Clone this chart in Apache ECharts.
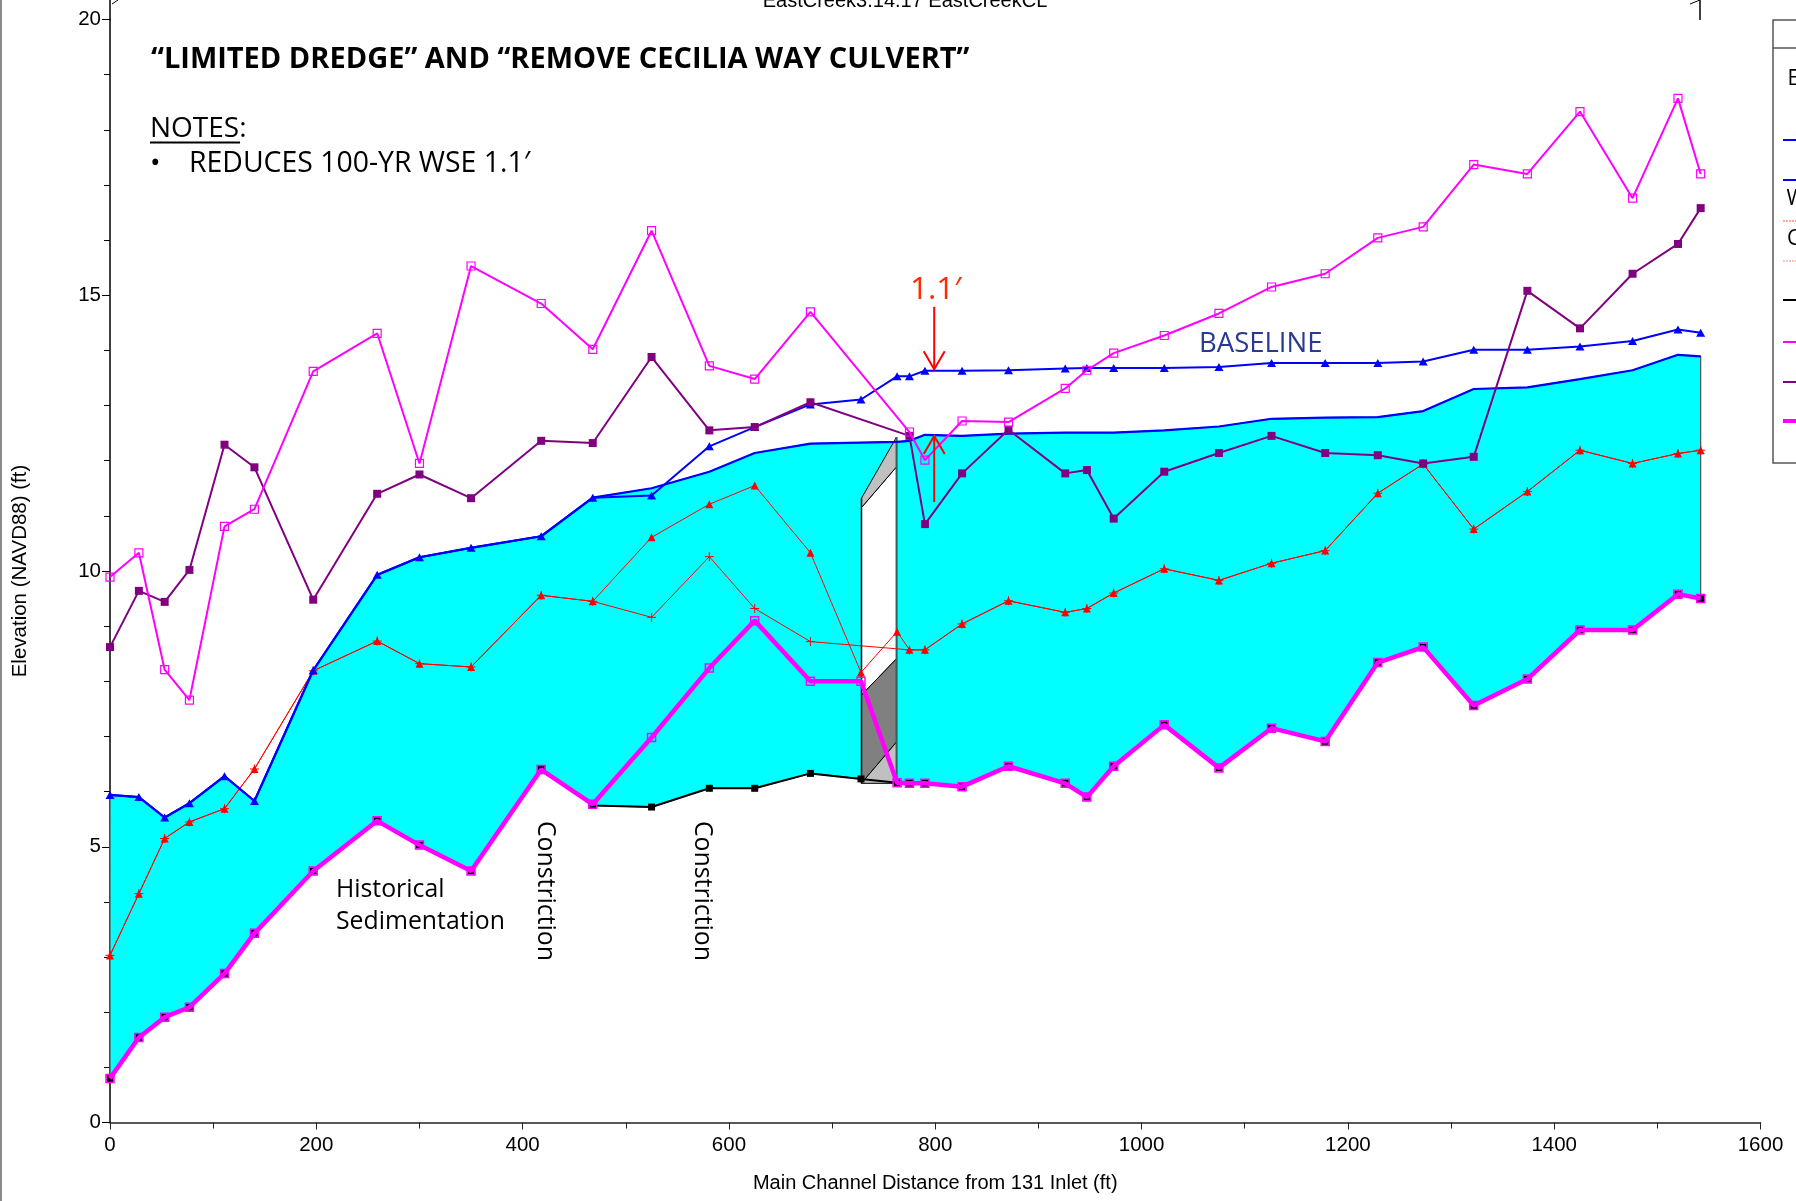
<!DOCTYPE html>
<html><head><meta charset="utf-8">
<script src="https://cdn.jsdelivr.net/npm/echarts/dist/echarts.min.js"></script>
<style>html,body{margin:0;padding:0;background:#fff}#c{width:1796px;height:1201px}</style>
</head><body><div id="c"></div>
<script>
// River stations (ft from 131 Inlet)
const stations = [0,28,53,77,111,140,197,259,300,350,418,468,525,581,625,679,728,763,775,790,826,871,926,947,973,1022,1075,1126,1178,1229,1273,1322,1374,1425,1476,1520,1542];
// Baseline water surface (blue, triangles)
const wsBaseline = [5.94,5.90,5.53,5.79,6.28,5.83,8.20,9.93,10.25,10.42,10.63,11.33,11.37,12.26,12.61,13.02,13.11,13.53,13.53,13.63,13.63,13.64,13.67,13.68,13.68,13.68,13.70,13.77,13.77,13.77,13.80,14.01,14.01,14.07,14.17,14.38,14.32];
// Proposed water surface (blue, top of cyan)
const wsProposed = [5.94,5.90,5.53,5.79,6.28,5.83,8.20,9.93,10.25,10.42,10.63,11.33,11.50,11.80,12.14,12.31,null,12.34,12.36,12.47,12.45,12.49,12.51,12.51,12.51,12.55,12.62,12.76,12.78,12.79,12.90,13.30,13.33,13.48,13.64,13.92,13.89];
// Critical WS, baseline (red triangles)
const critBaseline = [3.03,4.15,5.15,5.45,5.69,6.41,8.19,8.73,8.32,8.26,9.56,9.45,10.61,11.21,11.55,10.33,8.16,8.90,8.57,8.57,9.04,9.46,9.25,9.32,9.60,10.04,9.83,10.14,10.37,11.41,11.94,10.76,11.44,12.19,11.95,12.13,12.19];
// Critical WS, proposed (red +)
const critProposed = [3.03,4.15,5.15,5.45,5.69,6.41,8.19,8.73,8.32,8.26,9.56,9.45,9.16,10.26,9.32,8.72,null,null,8.57,8.57,9.04,9.46,9.25,9.32,9.60,10.04,9.83,10.14,10.37,11.41,11.94,10.76,11.44,12.19,11.95,12.13,12.19];
// Right bank (purple filled squares)
const rightBank = [8.62,9.64,9.44,10.02,12.29,11.88,9.48,11.40,11.75,11.32,12.36,12.32,13.88,12.55,12.61,13.06,null,null,12.45,10.85,11.77,12.56,11.77,11.83,10.95,11.80,12.14,12.45,12.14,12.10,11.95,12.07,15.08,14.40,15.39,15.93,16.58];
// Left bank (magenta open squares)
const leftBank = [9.89,10.33,8.21,7.66,10.81,11.12,13.62,14.31,11.95,15.53,14.85,14.02,16.17,13.72,13.48,14.70,null,null,12.52,12.01,12.72,12.70,13.31,13.64,13.95,14.27,14.67,15.15,15.39,16.04,16.24,17.37,17.20,18.33,16.76,18.57,17.20];
// Ground, dredged (black)
const groundDredged = [0.80,1.54,1.91,2.09,2.70,3.43,4.56,5.47,5.03,4.56,6.40,5.75,5.72,6.06,6.06,6.33,6.23,6.16,6.15,6.15,6.09,6.46,6.15,5.90,6.46,7.21,6.43,7.15,6.91,8.34,8.62,7.56,8.04,8.93,8.93,9.58,9.50];
// Ground, historical sedimentation (thick magenta)
const groundExisting = [0.80,1.54,1.91,2.09,2.70,3.43,4.56,5.47,5.03,4.56,6.40,5.77,6.98,8.24,9.10,8.00,8.00,6.16,6.15,6.15,6.09,6.46,6.15,5.90,6.46,7.21,6.43,7.15,6.91,8.34,8.62,7.56,8.04,8.93,8.93,9.58,9.50];
// Cecilia Way culvert outline
const culvertStations = [728.5, 762.5];
const culvertDeckTop = [11.32, 12.43];
const culvertDeckBottom = [11.15, 11.89];
const culvertFillTop = [7.75, 8.41];
const culvertFillBottom = [6.15, 6.90];
const culvertInvert = [6.15, 6.15];
// 1.1' annotation arrows
const arrowStation = 799;
const arrowDown = [14.79, 13.66];
const arrowUp = [11.25, 12.45];
// axis ticks
const xTickInterval = 200, xMax = 1600;
const yTickInterval = 5, yMax = 20;

function pairs(ys){ const out=[]; stations.forEach((x,i)=>{ if(ys[i]!=null) out.push([x,ys[i]]); }); return out; }

const chart = echarts.init(document.getElementById('c'), null, {renderer:'canvas'});
const TXT = '"Open Sans", "Noto Sans", sans-serif';
const AX = '"Liberation Sans", Arial, sans-serif';
const hollow = 'rgba(0,0,0,0)';

const option = {
  animation:false,
  backgroundColor:'#fff',
  grid:{left:110, right:35.5, top:19.5, bottom:78.5},
  xAxis:{type:'value', min:0, max:xMax, interval:xTickInterval,
    name:'Main Channel Distance from 131 Inlet (ft)', nameLocation:'middle', nameGap:51,
    nameTextStyle:{fontFamily:AX, fontSize:20, color:'#000'},
    axisLine:{show:true, onZero:false, lineStyle:{color:'#222', width:1.5}},
    axisTick:{show:true, length:7, lineStyle:{color:'#222', width:1}},
    minorTick:{show:true, splitNumber:2, length:6, lineStyle:{color:'#222', width:1}},
    axisLabel:{fontFamily:AX, fontSize:20.5, color:'#000', margin:12, showMinLabel:true, showMaxLabel:true, formatter:v=>String(v)},
    splitLine:{show:false}, minorSplitLine:{show:false}},
  yAxis:{type:'value', min:0, max:yMax, interval:yTickInterval,
    name:'Elevation (NAVD88) (ft)', nameLocation:'middle', nameGap:79,
    nameTextStyle:{fontFamily:AX, fontSize:20.5, color:'#000'},
    axisLine:{show:true, onZero:false, lineStyle:{color:'#000', width:1.5}},
    axisTick:{show:true, length:8, lineStyle:{color:'#000', width:1}},
    minorTick:{show:true, splitNumber:5, length:6, lineStyle:{color:'#000', width:1}},
    axisLabel:{fontFamily:AX, fontSize:20.5, color:'#000', margin:9, showMinLabel:true, showMaxLabel:true, formatter:v=>String(v)},
    splitLine:{show:false}, minorSplitLine:{show:false}},
  series:[
    {type:'custom', name:'Flow area', coordinateSystem:'cartesian2d', data:[[0,0]], z:1, silent:true,
      renderItem:(p,api)=>{
        const pts=[];
        stations.forEach((x,i)=>{ if(wsProposed[i]!=null) pts.push(api.coord([x, wsProposed[i]])); });
        for(let i=stations.length-1;i>=0;i--){ if(groundDredged[i]!=null) pts.push(api.coord([stations[i], groundDredged[i]])); }
        return {type:'polygon', shape:{points:pts}, style:{fill:'#00ffff', stroke:'#505050', lineWidth:1.2}};
      }},
    {type:'custom', name:'Culvert', coordinateSystem:'cartesian2d', data:[[culvertStations[0], culvertInvert[0]]], z:2, silent:true,
      renderItem:(p,api)=>{
        const c=(i,y)=>api.coord([culvertStations[i], y]);
        return {type:'group', children:[
          {type:'polygon', shape:{points:[c(0,culvertDeckBottom[0]),c(1,culvertDeckBottom[1]),c(1,culvertFillTop[1]),c(0,culvertFillTop[0])]}, style:{fill:'#ffffff', stroke:'#000', lineWidth:1}},
          {type:'polygon', shape:{points:[c(0,culvertDeckTop[0]),c(1,culvertDeckTop[1]),c(1,culvertDeckBottom[1]),c(0,culvertDeckBottom[0])]}, style:{fill:'#c0c0c0', stroke:'#000', lineWidth:1}},
          {type:'polygon', shape:{points:[c(0,culvertFillTop[0]),c(1,culvertFillTop[1]),c(1,culvertFillBottom[1]),c(0,culvertFillBottom[0])]}, style:{fill:'#808080', stroke:'#000', lineWidth:1}},
          {type:'polygon', shape:{points:[c(0,culvertFillBottom[0]),c(1,culvertFillBottom[1]),c(1,culvertInvert[1])]}, style:{fill:'#c0c0c0', stroke:'#000', lineWidth:1}},
          {type:'line', shape:{x1:c(0,culvertDeckTop[0])[0], y1:c(0,culvertDeckTop[0])[1], x2:c(0,culvertInvert[0])[0], y2:c(0,culvertInvert[0])[1]}, style:{stroke:'#000', lineWidth:1.5}},
          {type:'line', shape:{x1:c(1,culvertDeckTop[1])[0], y1:c(1,culvertDeckTop[1])[1], x2:c(1,culvertInvert[1])[0], y2:c(1,culvertInvert[1])[1]}, style:{stroke:'#2f5f5f', lineWidth:2}}
        ]};
      }},
    {type:'line', name:'Ground (dredged)', data:pairs(groundDredged), z:3, symbol:'rect', symbolSize:7,
      lineStyle:{color:'#000', width:2}, itemStyle:{color:'#000'}},
    {type:'line', name:'Ground (existing)', data:pairs(groundExisting), z:4, symbol:'rect', symbolSize:8,
      lineStyle:{color:'#ff00ff', width:4.5}, itemStyle:{color:hollow, borderColor:'#ff00ff', borderWidth:1.5}},
    {type:'line', name:'Crit baseline', data:pairs(critBaseline), z:5, symbol:'triangle', symbolSize:[8,8],
      lineStyle:{color:'#ff0000', width:1}, itemStyle:{color:'#ff0000'}},
    {type:'line', name:'Crit proposed', data:pairs(critProposed), z:5, symbol:'path://M0,5L10,5M5,0L5,10', symbolSize:9,
      lineStyle:{color:'#ff0000', width:1}, itemStyle:{color:'#ff0000', borderColor:'#ff0000', borderWidth:1}},
    {type:'line', name:'WS proposed', data:pairs(wsProposed), z:6, symbol:'none',
      lineStyle:{color:'#0000ff', width:2.2}},
    {type:'line', name:'WS baseline', data:pairs(wsBaseline), z:7, symbol:'triangle', symbolSize:[9,8],
      lineStyle:{color:'#0000ff', width:2}, itemStyle:{color:'#0000ff'}},
    {type:'line', name:'Right bank', data:pairs(rightBank), z:8, symbol:'rect', symbolSize:8,
      lineStyle:{color:'#800080', width:2}, itemStyle:{color:'#800080'}},
    {type:'line', name:'Left bank', data:pairs(leftBank), z:9, symbol:'rect', symbolSize:8,
      lineStyle:{color:'#ff00ff', width:2}, itemStyle:{color:hollow, borderColor:'#ff00ff', borderWidth:1.2}},
    {type:'custom', name:'Arrows', coordinateSystem:'cartesian2d', data:[[arrowStation, arrowDown[1]]], z:10, silent:true,
      renderItem:(p,api)=>{
        const mk=(y0,y1)=>{ const a=api.coord([arrowStation,y0]), b=api.coord([arrowStation,y1]); const d=Math.sign(b[1]-a[1]);
          return [{type:'line', shape:{x1:a[0],y1:a[1],x2:b[0],y2:b[1]}, style:{stroke:'#ff0000', lineWidth:2}},
                  {type:'polyline', shape:{points:[[b[0]-10.5,b[1]-d*18],[b[0],b[1]],[b[0]+10.5,b[1]-d*18]]}, style:{stroke:'#ff0000', lineWidth:2, fill:null}}]; };
        return {type:'group', children:[...mk(arrowDown[0],arrowDown[1]), ...mk(arrowUp[0],arrowUp[1])]};
      }}
  ],
  graphic:[
    {type:'line', shape:{x1:1,y1:0,x2:1,y2:1201}, style:{stroke:'#8a8a8a', lineWidth:2}},
    {type:'line', shape:{x1:110,y1:0,x2:110,y2:20}, style:{stroke:'#000', lineWidth:1.5}},
    {type:'line', shape:{x1:112,y1:4,x2:118,y2:0}, style:{stroke:'#000', lineWidth:1}},
    {type:'line', shape:{x1:1700,y1:0,x2:1700,y2:20}, style:{stroke:'#000', lineWidth:1.5}},
    {type:'line', shape:{x1:1690,y1:4,x2:1700,y2:0}, style:{stroke:'#000', lineWidth:1}},
    {type:'text', x:905, y:1, style:{text:'EastCreek3.14.17 EastCreekCL', font:'20px '+AX, fill:'#000', align:'center', verticalAlign:'middle'}},
    {type:'text', x:151, y:59.5, style:{text:'\u201CLIMITED DREDGE\u201D AND \u201CREMOVE CECILIA WAY CULVERT\u201D', font:'bold 29px '+TXT, fill:'#000', align:'left', verticalAlign:'middle'}},
    {type:'text', x:150, y:129, style:{text:'NOTES:', font:'28px '+TXT, fill:'#000', align:'left', verticalAlign:'middle'}},
    {type:'line', shape:{x1:150,y1:142.5,x2:240,y2:142.5}, style:{stroke:'#000', lineWidth:2}},
    {type:'text', x:150, y:164, style:{text:'\u2022', font:'28px '+TXT, fill:'#000', align:'left', verticalAlign:'middle'}},
    {type:'text', x:189, y:164, style:{text:'REDUCES 100-YR WSE 1.1\u2032', font:'28.4px '+TXT, fill:'#000', align:'left', verticalAlign:'middle'}},
    {type:'text', x:910, y:290, style:{text:'1.1\u2032', font:'31.5px '+TXT, fill:'#ff2a00', align:'left', verticalAlign:'middle'}},
    {type:'text', x:1199, y:344, style:{text:'BASELINE', font:'27.5px '+TXT, fill:'#2b3990', align:'left', verticalAlign:'middle'}},
    {type:'text', x:336, y:889.5, style:{text:'Historical', font:'24.8px '+TXT, fill:'#000', align:'left', verticalAlign:'middle'}},
    {type:'text', x:336, y:922, style:{text:'Sedimentation', font:'24.8px '+TXT, fill:'#000', align:'left', verticalAlign:'middle'}},
    {type:'text', x:545, y:821, rotation:-Math.PI/2, style:{text:'Constriction', font:'24.8px '+TXT, fill:'#000', align:'left', verticalAlign:'middle'}},
    {type:'text', x:702, y:821, rotation:-Math.PI/2, style:{text:'Constriction', font:'24.8px '+TXT, fill:'#000', align:'left', verticalAlign:'middle'}},
    {type:'rect', shape:{x:1773, y:20, width:60, height:443}, style:{fill:'#fff', stroke:'#555', lineWidth:1.5}},
    {type:'line', shape:{x1:1773,y1:48,x2:1796,y2:48}, style:{stroke:'#555', lineWidth:1.5}},
    {type:'text', x:1787.5, y:79, style:{text:'E', font:'21px '+TXT, fill:'#000', align:'left', verticalAlign:'middle'}},
    {type:'line', shape:{x1:1783,y1:140,x2:1796,y2:140}, style:{stroke:'#0000ff', lineWidth:2}},
    {type:'line', shape:{x1:1783,y1:180,x2:1796,y2:180}, style:{stroke:'#0000ff', lineWidth:2}},
    {type:'text', x:1786.5, y:199, style:{text:'W', font:'21px '+TXT, fill:'#000', align:'left', verticalAlign:'middle'}},
    {type:'line', shape:{x1:1783,y1:221,x2:1796,y2:221}, style:{stroke:'#ff5050', lineWidth:1, lineDash:[2,1]}},
    {type:'text', x:1787, y:239, style:{text:'C', font:'21px '+TXT, fill:'#000', align:'left', verticalAlign:'middle'}},
    {type:'line', shape:{x1:1783,y1:261,x2:1796,y2:261}, style:{stroke:'#ff8080', lineWidth:1, lineDash:[2,1]}},
    {type:'line', shape:{x1:1783,y1:300,x2:1796,y2:300}, style:{stroke:'#000', lineWidth:2}},
    {type:'line', shape:{x1:1783,y1:342,x2:1796,y2:342}, style:{stroke:'#ff00ff', lineWidth:2}},
    {type:'line', shape:{x1:1783,y1:382,x2:1796,y2:382}, style:{stroke:'#800080', lineWidth:2}},
    {type:'line', shape:{x1:1783,y1:421,x2:1796,y2:421}, style:{stroke:'#ff00ff', lineWidth:4}}
  ]
};
chart.setOption(option);
</script></body></html>
